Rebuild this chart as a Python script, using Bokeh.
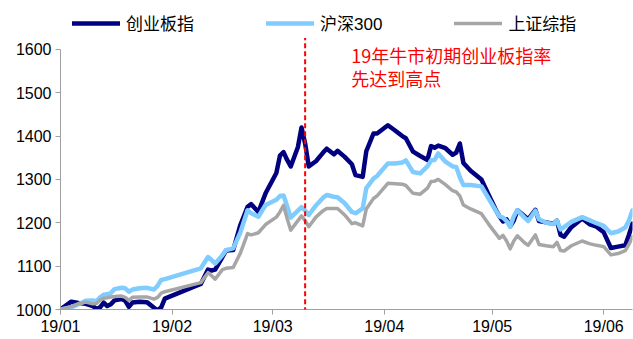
import pandas as pd
from bokeh.plotting import figure
from bokeh.models import (Range1d, FixedTicker, DatetimeTickFormatter, Legend,
                          LegendItem, Arrow, Label)
from bokeh.embed import file_html
from bokeh.resources import INLINE

# Index levels rebased to 1000 at the start of 2019
dates = [
    "2019-01-01", "2019-01-04", "2019-01-06", "2019-01-08", "2019-01-10", "2019-01-11",
    "2019-01-12", "2019-01-13", "2019-01-14", "2019-01-15", "2019-01-16", "2019-01-18",
    "2019-01-19", "2019-01-20", "2019-01-21", "2019-01-23", "2019-01-25", "2019-01-27",
    "2019-01-28", "2019-01-29", "2019-01-30",
    "2019-02-09", "2019-02-11", "2019-02-12", "2019-02-13", "2019-02-15", "2019-02-16",
    "2019-02-18", "2019-02-20", "2019-02-22", "2019-02-23", "2019-02-25", "2019-02-27",
    "2019-03-02", "2019-03-03", "2019-03-04", "2019-03-05", "2019-03-06", "2019-03-08",
    "2019-03-09", "2019-03-10", "2019-03-11", "2019-03-13", "2019-03-15", "2019-03-16",
    "2019-03-18", "2019-03-19", "2019-03-21", "2019-03-23", "2019-03-24", "2019-03-26",
    "2019-03-27", "2019-03-29", "2019-03-30",
    "2019-04-02", "2019-04-04", "2019-04-06", "2019-04-07", "2019-04-09", "2019-04-11",
    "2019-04-13", "2019-04-14", "2019-04-15", "2019-04-16", "2019-04-18", "2019-04-20",
    "2019-04-21", "2019-04-22", "2019-04-23", "2019-04-25", "2019-04-28", "2019-04-30",
    "2019-05-02", "2019-05-03", "2019-05-04", "2019-05-05", "2019-05-06", "2019-05-07",
    "2019-05-08", "2019-05-10", "2019-05-11", "2019-05-13", "2019-05-14", "2019-05-16",
    "2019-05-18", "2019-05-19", "2019-05-20", "2019-05-21", "2019-05-23", "2019-05-26",
    "2019-05-28", "2019-05-30",
    "2019-06-01", "2019-06-03", "2019-06-05", "2019-06-07", "2019-06-08", "2019-06-09",
]

cyb = [  # 创业板指
    1000, 1018, 1015, 1013, 1008, 1001, 1005, 1016, 1008, 1012, 1021, 1024,
    1020, 1006, 1016, 1018, 1017, 1004, 998, 1005, 1025,
    1059, 1092, 1090, 1092, 1121, 1136, 1137, 1195, 1237, 1243, 1225, 1268,
    1315, 1355, 1363, 1345, 1330, 1375, 1420, 1383, 1330, 1342, 1362, 1371,
    1358, 1366, 1352, 1335, 1310, 1306, 1365, 1406, 1406,
    1425, 1413, 1400, 1395, 1364, 1354, 1345, 1377, 1373, 1378, 1372, 1357,
    1362, 1383, 1338, 1320, 1300, 1265,
    1230, 1215, 1203, 1208, 1192, 1205, 1229, 1215, 1208, 1230, 1204, 1201,
    1198, 1205, 1172, 1168, 1190, 1210, 1197, 1191,
    1178, 1142, 1145, 1148, 1172, 1198,
]

hs300 = [  # 沪深300
    1000, 1005, 1012, 1020, 1021, 1019, 1028, 1034, 1035, 1038, 1047, 1050,
    1049, 1041, 1046, 1049, 1050, 1046, 1055, 1068, 1070,
    1095, 1121, 1114, 1106, 1125, 1137, 1141, 1178, 1229, 1222, 1214, 1241,
    1253, 1262, 1263, 1238, 1212, 1228, 1236, 1228, 1218, 1240, 1258, 1264,
    1260, 1259, 1245, 1225, 1222, 1233, 1280, 1302, 1308,
    1337, 1337, 1339, 1344, 1317, 1314, 1330, 1344, 1345, 1360, 1341, 1330,
    1329, 1305, 1287, 1287, 1284, 1256,
    1228, 1215, 1212, 1204, 1191, 1215, 1229, 1212, 1204, 1228, 1208, 1200,
    1197, 1205, 1185, 1190, 1202, 1213, 1206, 1199,
    1193, 1176, 1180, 1189, 1205, 1229,
]

szzs = [  # 上证综指
    1000, 1007, 1013, 1017, 1013, 1014, 1022, 1026, 1027, 1029, 1030, 1031,
    1028, 1021, 1028, 1029, 1029, 1024, 1028, 1038, 1041,
    1062, 1085, 1078, 1070, 1092, 1095, 1097, 1130, 1175, 1172, 1177, 1196,
    1213, 1225, 1240, 1210, 1183, 1205, 1216, 1205, 1191, 1213, 1228, 1233,
    1233, 1233, 1218, 1198, 1200, 1193, 1232, 1256, 1262,
    1291, 1290, 1289, 1286, 1268, 1266, 1280, 1295, 1296, 1300, 1288, 1274,
    1271, 1262, 1241, 1232, 1221, 1197,
    1175, 1164, 1171, 1158, 1140, 1158, 1170, 1154, 1148, 1172, 1150, 1147,
    1145, 1155, 1136, 1135, 1147, 1158, 1152, 1148,
    1145, 1126, 1129, 1136, 1150, 1168,
]

series_names = ["创业板指", "沪深300", "上证综指"]
y_ticks = [1000, 1100, 1200, 1300, 1400, 1500, 1600]
x_ticks = ["2019-01-01", "2019-02-01", "2019-03-01", "2019-04-01", "2019-05-01", "2019-06-01"]
peak_date = "2019-03-10"
note_lines = ["19年牛市初期创业板指率", "先达到高点"]


def ms(t):
    return pd.Timestamp(t).value / 1e6


x = pd.to_datetime(dates)

# the frame reaches up to the top of the canvas so the legend and the note
# can sit above the 1600 line; the y axis itself stops at 1600
p = figure(width=633, height=339, x_axis_type="datetime",
           output_backend="svg", toolbar_location=None,
           x_range=Range1d(ms("2019-01-01"), ms(dates[-1])),
           y_range=Range1d(y_ticks[0], 1692),
           min_border_left=60, min_border_right=1,
           min_border_top=9, min_border_bottom=30)
p.outline_line_color = None
p.grid.visible = False
p.background_fill_color = "white"

r_cyb = p.line(x, cyb, line_color="#000080", line_width=4.5,
               line_join="round", line_cap="round")
r_hs = p.line(x, hs300, line_color="#80CCFF", line_width=4.5,
              line_join="round", line_cap="round")
r_sz = p.line(x, szzs, line_color="#A6A6A6", line_width=3.5,
              line_join="round", line_cap="round")

# axes
axis_grey = "#A0A0A0"
for ax in (p.xaxis[0], p.yaxis[0]):
    ax.axis_line_color = axis_grey
    ax.major_tick_line_color = axis_grey
    ax.minor_tick_line_color = None
    ax.major_tick_in = 0
    ax.major_tick_out = 5
    ax.major_label_text_font = "Liberation Sans"
    ax.major_label_text_font_size = "16px"
    ax.major_label_text_color = "black"

p.yaxis.ticker = FixedTicker(ticks=y_ticks)
p.yaxis.bounds = (y_ticks[0], y_ticks[-1])
p.yaxis.major_label_standoff = 4
p.xaxis.ticker = FixedTicker(ticks=[ms(t) for t in x_ticks])
p.xaxis.major_label_standoff = 3
p.xaxis.formatter = DatetimeTickFormatter(
    days="%y/%m", months="%y/%m", years="%y/%m", hours="%y/%m")

# legend across the top
legend = Legend(
    items=[LegendItem(label=n, renderers=[r])
           for n, r in zip(series_names, [r_cyb, r_hs, r_sz])],
    orientation="horizontal", location=(12, 274),
    glyph_width=48, glyph_height=20, label_height=20,
    label_standoff=6, spacing=72, padding=0, margin=0,
    border_line_color=None, background_fill_alpha=0,
    label_text_font="'Liberation Sans', 'Noto Sans CJK SC'",
    label_text_font_size="17px", label_text_color="black")
p.add_layout(legend)

# marker for the ChiNext peak
peak = ms(peak_date)
p.add_layout(Arrow(end=None, x_start=peak, y_start=975, x_end=peak, y_end=1626,
                   line_color="#FF0000", line_width=2, line_dash="5 3"))

note_x = ms("2019-03-22 19:00")
for text, yv in zip(note_lines, [1588, 1535]):
    p.add_layout(Label(x=note_x, y=yv, text=text, text_color="#FF0000",
                       text_font="Noto Sans CJK SC", text_font_size="18px",
                       text_baseline="middle", text_align="left"))

open("out.html", "w").write(file_html(p, INLINE))
